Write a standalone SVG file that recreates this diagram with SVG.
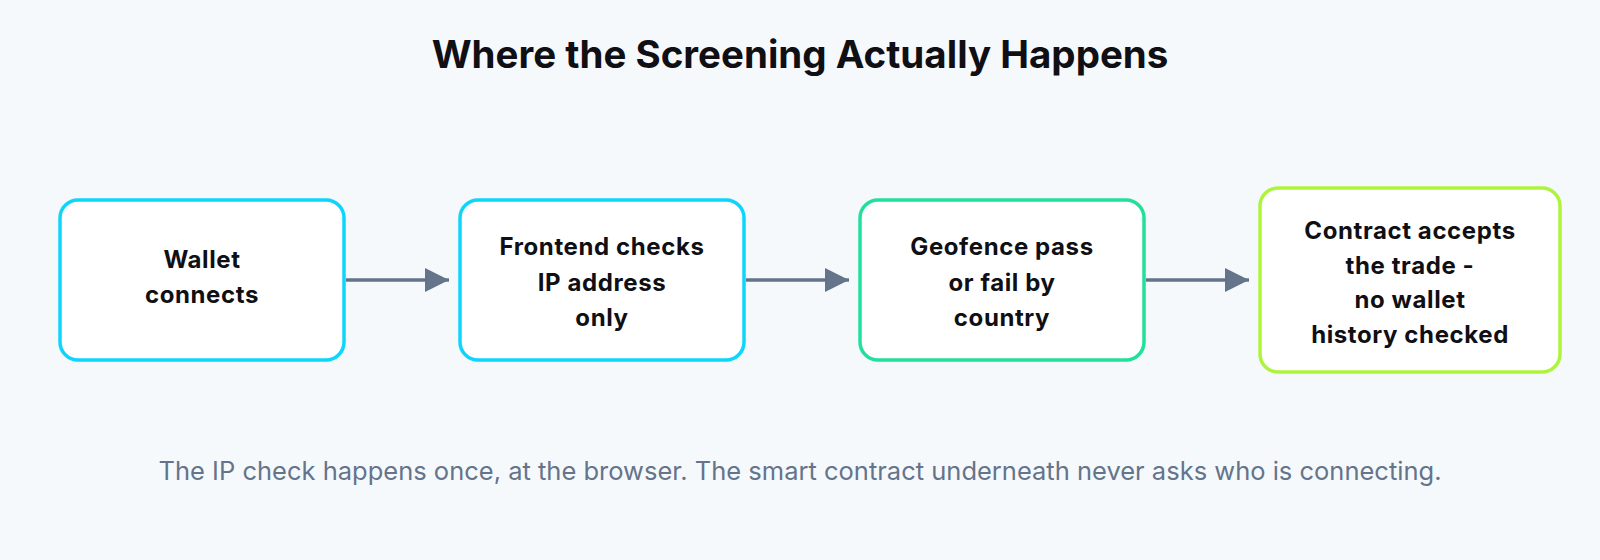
<svg xmlns="http://www.w3.org/2000/svg" width="1600" height="560" viewBox="0 0 1600 560">
<defs>
<style>
.bg{fill:#f6f9fc}
.title{font-family:Inter,"Liberation Sans",sans-serif;font-weight:700;font-size:38.5px;fill:#0f0f14;text-anchor:middle}
.box{fill:#ffffff;stroke-width:3.5}
.lbl{font-family:Inter,"Liberation Sans",sans-serif;font-weight:700;font-size:24px;letter-spacing:0.6px;fill:#0f0f14;text-anchor:middle}
.cap{font-family:Inter,"Liberation Sans",sans-serif;font-size:25.5px;fill:#64748b;text-anchor:middle}
.edge{stroke:#64748b;stroke-width:3.5;fill:none}
</style>
<marker id="ah" viewBox="0 0 10 10" refX="10" refY="5" markerWidth="7" markerHeight="7" markerUnits="strokeWidth" orient="auto">
<path d="M0,0 L10,5 L0,10 Z" fill="#64748b"/>
</marker>
</defs>
<rect class="bg" x="0" y="0" width="1600" height="560"/>
<text class="title" x="800" y="68">Where the Screening Actually Happens</text>
<g id="connectors">
<line class="edge" x1="346" y1="280" x2="449" y2="280" marker-end="url(#ah)"/>
<line class="edge" x1="746" y1="280" x2="849" y2="280" marker-end="url(#ah)"/>
<line class="edge" x1="1146" y1="280" x2="1249" y2="280" marker-end="url(#ah)"/>
</g>
<g id="n1">
<rect class="box" x="60" y="200" width="284" height="160" rx="18" stroke="#0fd4fb"/>
<text class="lbl"><tspan x="202" y="268">Wallet</tspan><tspan x="202" y="303">connects</tspan></text>
</g>
<g id="n2">
<rect class="box" x="460" y="200" width="284" height="160" rx="18" stroke="#0fd4fb"/>
<text class="lbl"><tspan x="602" y="255">Frontend checks</tspan><tspan x="602" y="290.5">IP address</tspan><tspan x="602" y="326">only</tspan></text>
</g>
<g id="n3">
<rect class="box" x="860" y="200" width="284" height="160" rx="18" stroke="#22e09b"/>
<text class="lbl"><tspan x="1002" y="255">Geofence pass</tspan><tspan x="1002" y="290.5">or fail by</tspan><tspan x="1002" y="326">country</tspan></text>
</g>
<g id="n4">
<rect class="box" x="1260" y="188" width="300" height="184" rx="18" stroke="#aef43c"/>
<text class="lbl"><tspan x="1410" y="239">Contract accepts</tspan><tspan x="1410" y="273.5">the trade -</tspan><tspan x="1410" y="308">no wallet</tspan><tspan x="1410" y="342.5">history checked</tspan></text>
</g>
<text class="cap" x="800" y="480">The IP check happens once, at the browser. The smart contract underneath never asks who is connecting.</text>
</svg>
